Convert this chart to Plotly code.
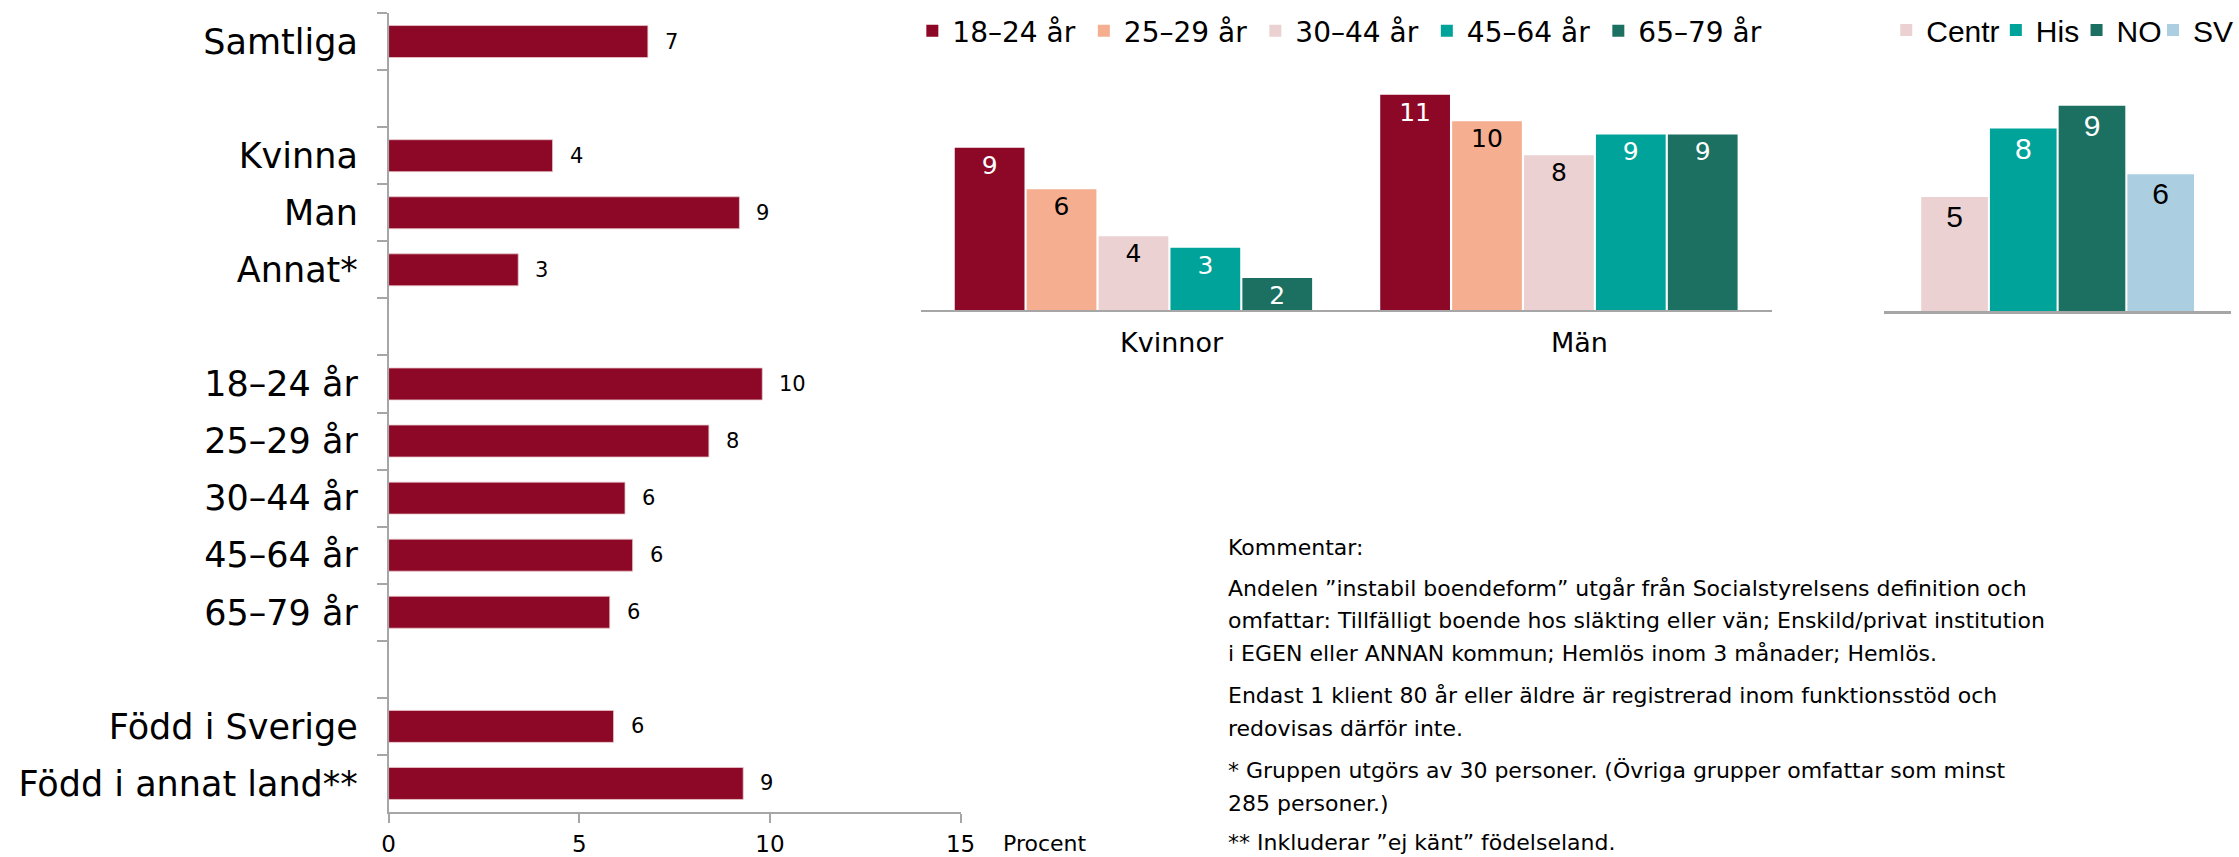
import plotly.graph_objects as go

W, H = 2239, 857
FONT = "DejaVu Sans"
FONT_R = "Liberation Sans"

# ---------------- data ----------------
# Left chart: share (%) per group
left_groups = [
    ["Samtliga"],
    ["Kvinna", "Man", "Annat*"],
    ["18–24 år", "25–29 år", "30–44 år", "45–64 år", "65–79 år"],
    ["Född i Sverige", "Född i annat land**"],
]
left_values = [6.8, 4.3, 9.2, 3.4, 9.8, 8.4, 6.2, 6.4, 5.8, 5.9, 9.3]
left_ticks = [0, 5, 10, 15]

# Middle chart: sex x age group
mid_categories = ["Kvinnor", "Män"]
age_groups = ["18–24 år", "25–29 år", "30–44 år", "45–64 år", "65–79 år"]
kvinnor_values = [8.6, 6.4, 3.9, 3.3, 1.7]
man_values = [11.4, 10.0, 8.2, 9.3, 9.3]

# Right chart: region
regions = ["Centr", "His", "NO", "SV"]
region_values = [5.0, 8.0, 9.0, 6.0]

comment_lines = [
    "Kommentar:",
    "Andelen ”instabil boendeform” utgår från Socialstyrelsens definition och",
    "omfattar: Tillfälligt boende hos släkting eller vän; Enskild/privat institution",
    "i EGEN eller ANNAN kommun; Hemlös inom 3 månader; Hemlös.",
    "Endast 1 klient 80 år eller äldre är registrerad inom funktionsstöd och",
    "redovisas därför inte.",
    "* Gruppen utgörs av 30 personer. (Övriga grupper omfattar som minst",
    "285 personer.)",
    "** Inkluderar ”ej känt” födelseland.",
]

# ---------------- styles ----------------
age_colors = ["#8C0826", "#F5AE90", "#ECD1D2", "#00A39A", "#1B7062"]
age_text_colors = ["white", "black", "black", "white", "white"]
region_colors = ["#ECD1D2", "#00A39A", "#1B7062", "#ABCFE0"]
region_text_colors = ["black", "white", "white", "black"]
region_legend_x = [1893, 2003, 2084, 2161]
bar_red = "#8C0826"
axis_gray = "#A6A6A6"

fig = go.Figure()

# left chart: build category list with spacer slots between groups
y_full, x_full = [], []
vi = 0
for gi, grp in enumerate(left_groups):
    if gi > 0:
        y_full.append(" " * gi)
        x_full.append(None)
    for c in grp:
        y_full.append(c)
        x_full.append(left_values[vi])
        vi += 1
left_categories = [c for grp in left_groups for c in grp]

fig.add_trace(go.Bar(
    x=x_full, y=y_full, orientation="h", width=0.56,
    marker=dict(color=bar_red, line=dict(color="#E8C8CC", width=0.8)),
    xaxis="x", yaxis="y", showlegend=False, hoverinfo="skip",
))

annotations = []
for c, v in zip(left_categories, left_values):
    annotations.append(dict(
        x=v, y=c, xref="x", yref="y", text=f"{v:.0f}", showarrow=False,
        xanchor="left", xshift=15, font=dict(size=21, color="black", family=FONT),
    ))

# middle chart
for i, ag in enumerate(age_groups):
    fig.add_trace(go.Bar(
        x=mid_categories, y=[kvinnor_values[i], man_values[i]], name=ag,
        marker=dict(color=age_colors[i], line=dict(width=0)),
        text=[f"{kvinnor_values[i]:.0f}", f"{man_values[i]:.0f}"],
        textposition="inside", insidetextanchor="end", constraintext="none",
        textangle=0,
        textfont=dict(size=25, color=age_text_colors[i], family=FONT),
        xaxis="x2", yaxis="y2", legend="legend", hoverinfo="skip",
    ))

# right chart
for i, r in enumerate(regions):
    fig.add_trace(go.Bar(
        x=["Region"], y=[region_values[i]], name=r,
        marker=dict(color=region_colors[i], line=dict(width=0)),
        text=[f"{region_values[i]:.0f}"],
        textposition="inside", insidetextanchor="end", constraintext="none",
        textangle=0,
        textfont=dict(size=30, color=region_text_colors[i], family=FONT_R),
        xaxis="x3", yaxis="y3", legend=f"legend{i + 2}", hoverinfo="skip",
    ))

# middle category labels
for cat, shift in zip(mid_categories, [39, 21]):
    annotations.append(dict(
        x=cat, y=1 - 342 / H, xref="x2", yref="paper", text=cat, showarrow=False,
        xanchor="center", yanchor="middle", xshift=shift,
        font=dict(size=27, color="black", family=FONT),
    ))

# "Procent" axis title
annotations.append(dict(
    x=1005 / W, y=1 - 843 / H, xref="paper", yref="paper", text="Procent",
    showarrow=False, xanchor="left", yanchor="middle",
    font=dict(size=22, color="black", family=FONT),
))

# comment text
line_y = [547, 588, 620.5, 653, 695, 728, 770, 803, 842]
for t, yy in zip(comment_lines, line_y):
    annotations.append(dict(
        x=1230 / W, y=1 - yy / H, xref="paper", yref="paper", text=t,
        showarrow=False, xanchor="left", yanchor="middle",
        font=dict(size=22, color="black", family=FONT),
    ))

layout = dict(
    width=W, height=H, margin=dict(l=0, r=0, t=0, b=0),
    paper_bgcolor="white", plot_bgcolor="white",
    font=dict(family=FONT, color="black"),
    barmode="group", bargap=0.155, bargroupgap=0.03,
    xaxis=dict(
        domain=[390 / W, 964 / W], anchor="y", range=[0, 15], tickvals=left_ticks,
        showline=True, linecolor=axis_gray, linewidth=1.5, ticks="outside",
        ticklen=9, tickcolor=axis_gray, tickwidth=1.5, showgrid=False,
        zeroline=False, tickfont=dict(size=23, color="black"), ticklabelstandoff=2,
        automargin=False,
    ),
    yaxis=dict(
        domain=[1 - 812 / H, 1 - 13 / H], anchor="x", type="category",
        categoryorder="array", categoryarray=y_full,
        range=[len(y_full) - 0.5, -0.5], tickson="boundaries",
        showline=True, linecolor=axis_gray, linewidth=1.5, ticks="outside",
        ticklen=10, tickcolor=axis_gray, tickwidth=1.5, showgrid=False,
        tickfont=dict(size=35, color="black"), ticklabelstandoff=22,
        automargin=False,
    ),
    xaxis2=dict(
        domain=[924 / W, 1778 / W], anchor="y2", type="category",
        showline=True, linecolor=axis_gray, linewidth=1.5,
        showticklabels=False, ticks="", showgrid=False,
    ),
    yaxis2=dict(
        domain=[1 - 310 / H, 1 - 74 / H], anchor="x2", range=[0, 12.5],
        visible=False,
    ),
    xaxis3=dict(
        domain=[1891 / W, 1.0], anchor="y3", type="category", range=[-0.533, 0.533],
        showline=True, linecolor=axis_gray, linewidth=2.5,
        showticklabels=False, ticks="", showgrid=False,
    ),
    yaxis3=dict(
        domain=[1 - 311 / H, 1 - 83 / H], anchor="x3", range=[0, 10],
        visible=False,
    ),
    legend=dict(
        orientation="h", x=915.6 / W, y=1 - 31 / H, xanchor="left", yanchor="middle",
        font=dict(size=28, color="black", family=FONT), bgcolor="rgba(0,0,0,0)",
        entrywidth=126.5, entrywidthmode="pixels",
    ),
    annotations=annotations,
    showlegend=True,
)
for i, lx in enumerate(region_legend_x):
    layout[f"legend{i + 2}"] = dict(
        orientation="h", x=lx / W, y=1 - 30 / H, xanchor="left", yanchor="middle",
        font=dict(size=30, color="black", family=FONT_R), bgcolor="rgba(0,0,0,0)",
    )
fig.update_layout(**layout)

fig.write_html(
    "out.html",
    config={"displayModeBar": False},
    post_script="document.body.style.margin='0';document.body.style.overflow='hidden';",
)
